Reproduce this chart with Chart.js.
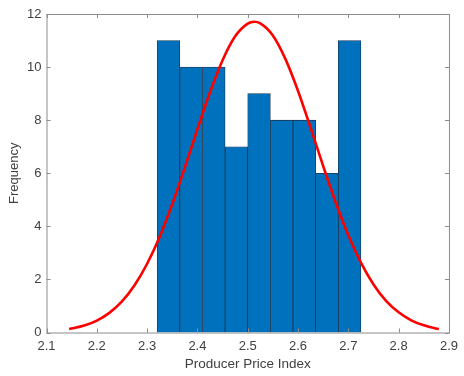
<!DOCTYPE html>
<html>
<head>
<meta charset="utf-8">
<script src="https://cdn.jsdelivr.net/npm/chart.js@4.4.0/dist/chart.umd.min.js"></script>
<style>
  html, body { margin: 0; padding: 0; background: #fff; }
  #wrap { width: 464px; height: 376px; }
</style>
</head>
<body>
<div id="wrap"><canvas id="hist"></canvas></div>
<script>
// histogram bins (centres), width 0.045
const binCenters = [2.3425, 2.3875, 2.4325, 2.4775, 2.5225, 2.5675, 2.6125, 2.6575, 2.7025];
const binCounts = [11, 10, 10, 7, 9, 8, 8, 6, 11];

// fitted normal curve
const curveX = [2.145, 2.175, 2.2, 2.225, 2.25, 2.275, 2.3, 2.325, 2.35, 2.375, 2.4, 2.425, 2.45, 2.475, 2.5, 2.513,
  2.525, 2.55, 2.575, 2.6, 2.625, 2.65, 2.675, 2.7, 2.725, 2.75, 2.775, 2.8, 2.825, 2.85, 2.88];
const curveY = [0.13, 0.26, 0.45, 0.74, 1.17, 1.78, 2.59, 3.61, 4.84, 6.22, 7.66, 9.05, 10.26, 11.16, 11.64, 11.71,
  11.65, 11.19, 10.3, 9.1, 7.71, 6.27, 4.89, 3.66, 2.63, 1.81, 1.19, 0.76, 0.46, 0.27, 0.13];

const xTicks = [2.1, 2.2, 2.3, 2.4, 2.5, 2.6, 2.7, 2.8, 2.9];
const yTicks = [0, 2, 4, 6, 8, 10, 12];

const axisGray = "#8c8c8c";
const textGray = "#404040";
const fontFamily = "'Liberation Sans', Arial, sans-serif";

// MATLAB style box with inward ticks
const boxPlugin = {
    id: "box",
    afterDatasetsDraw(chart) {
        const ctx = chart.ctx;
        const a = chart.chartArea;
        const xs = chart.scales.x, ys = chart.scales.y;
        ctx.save();
        ctx.strokeStyle = axisGray;
        ctx.lineWidth = 1;
        ctx.strokeRect(a.left + 0.5, a.top + 0.5, a.right - a.left, a.bottom - a.top);
        ctx.beginPath();
        xTicks.forEach(v => {
            const px = Math.round(xs.getPixelForValue(v)) + 0.5;
            ctx.moveTo(px, a.bottom); ctx.lineTo(px, a.bottom - 4);
            ctx.moveTo(px, a.top); ctx.lineTo(px, a.top + 4);
        });
        yTicks.forEach(v => {
            const py = Math.round(ys.getPixelForValue(v)) + 0.5;
            ctx.moveTo(a.left, py); ctx.lineTo(a.left + 4, py);
            ctx.moveTo(a.right, py); ctx.lineTo(a.right - 4, py);
        });
        ctx.stroke();
        ctx.restore();
    }
};

new Chart(document.getElementById("hist"), {
    type: "bar",
    data: {
        datasets: [{
            type: "line",
            data: curveX.map((x, i) => ({x: x, y: curveY[i]})),
            borderColor: "#ff0000",
            borderWidth: 2.6,
            pointRadius: 0,
            cubicInterpolationMode: "monotone",
            fill: false,
            order: 0
        }, {
            type: "bar",
            data: binCenters.map((x, i) => ({x: x, y: binCounts[i]})),
            backgroundColor: "#0072bd",
            borderColor: "#1c3550",
            borderWidth: 0.8,
            barPercentage: 1,
            categoryPercentage: 1,
            order: 1
        }]
    },
    options: {
        responsive: true,
        maintainAspectRatio: false,
        animation: false,
        layout: {padding: {left: 0, right: 13, top: 14, bottom: 0}},
        plugins: {legend: {display: false}, tooltip: {enabled: false}},
        scales: {
            x: {
                type: "linear",
                min: 2.1,
                max: 2.9,
                offset: false,
                afterBuildTicks: s => { s.ticks = xTicks.map(v => ({value: v})); },
                afterFit: s => { s.height = 43.5; },
                grid: {display: false, drawTicks: false, offset: false},
                border: {display: false},
                ticks: {color: textGray, padding: 6, font: {family: fontFamily, size: 13}, callback: v => v.toFixed(1)},
                title: {display: true, text: "Producer Price Index", color: textGray,
                    font: {family: fontFamily, size: 13.5}, padding: {top: 0, bottom: 4}}
            },
            y: {
                min: 0,
                max: 12,
                afterBuildTicks: s => { s.ticks = yTicks.map(v => ({value: v})); },
                afterFit: s => { s.width = 46.5; },
                grid: {display: false, drawTicks: false},
                border: {display: false},
                ticks: {color: textGray, padding: 5, font: {family: fontFamily, size: 13}},
                title: {display: true, text: "Frequency", color: textGray,
                    font: {family: fontFamily, size: 13}, padding: {top: 7, bottom: 0}}
            }
        }
    },
    plugins: [boxPlugin]
});
</script>
</body>
</html>
